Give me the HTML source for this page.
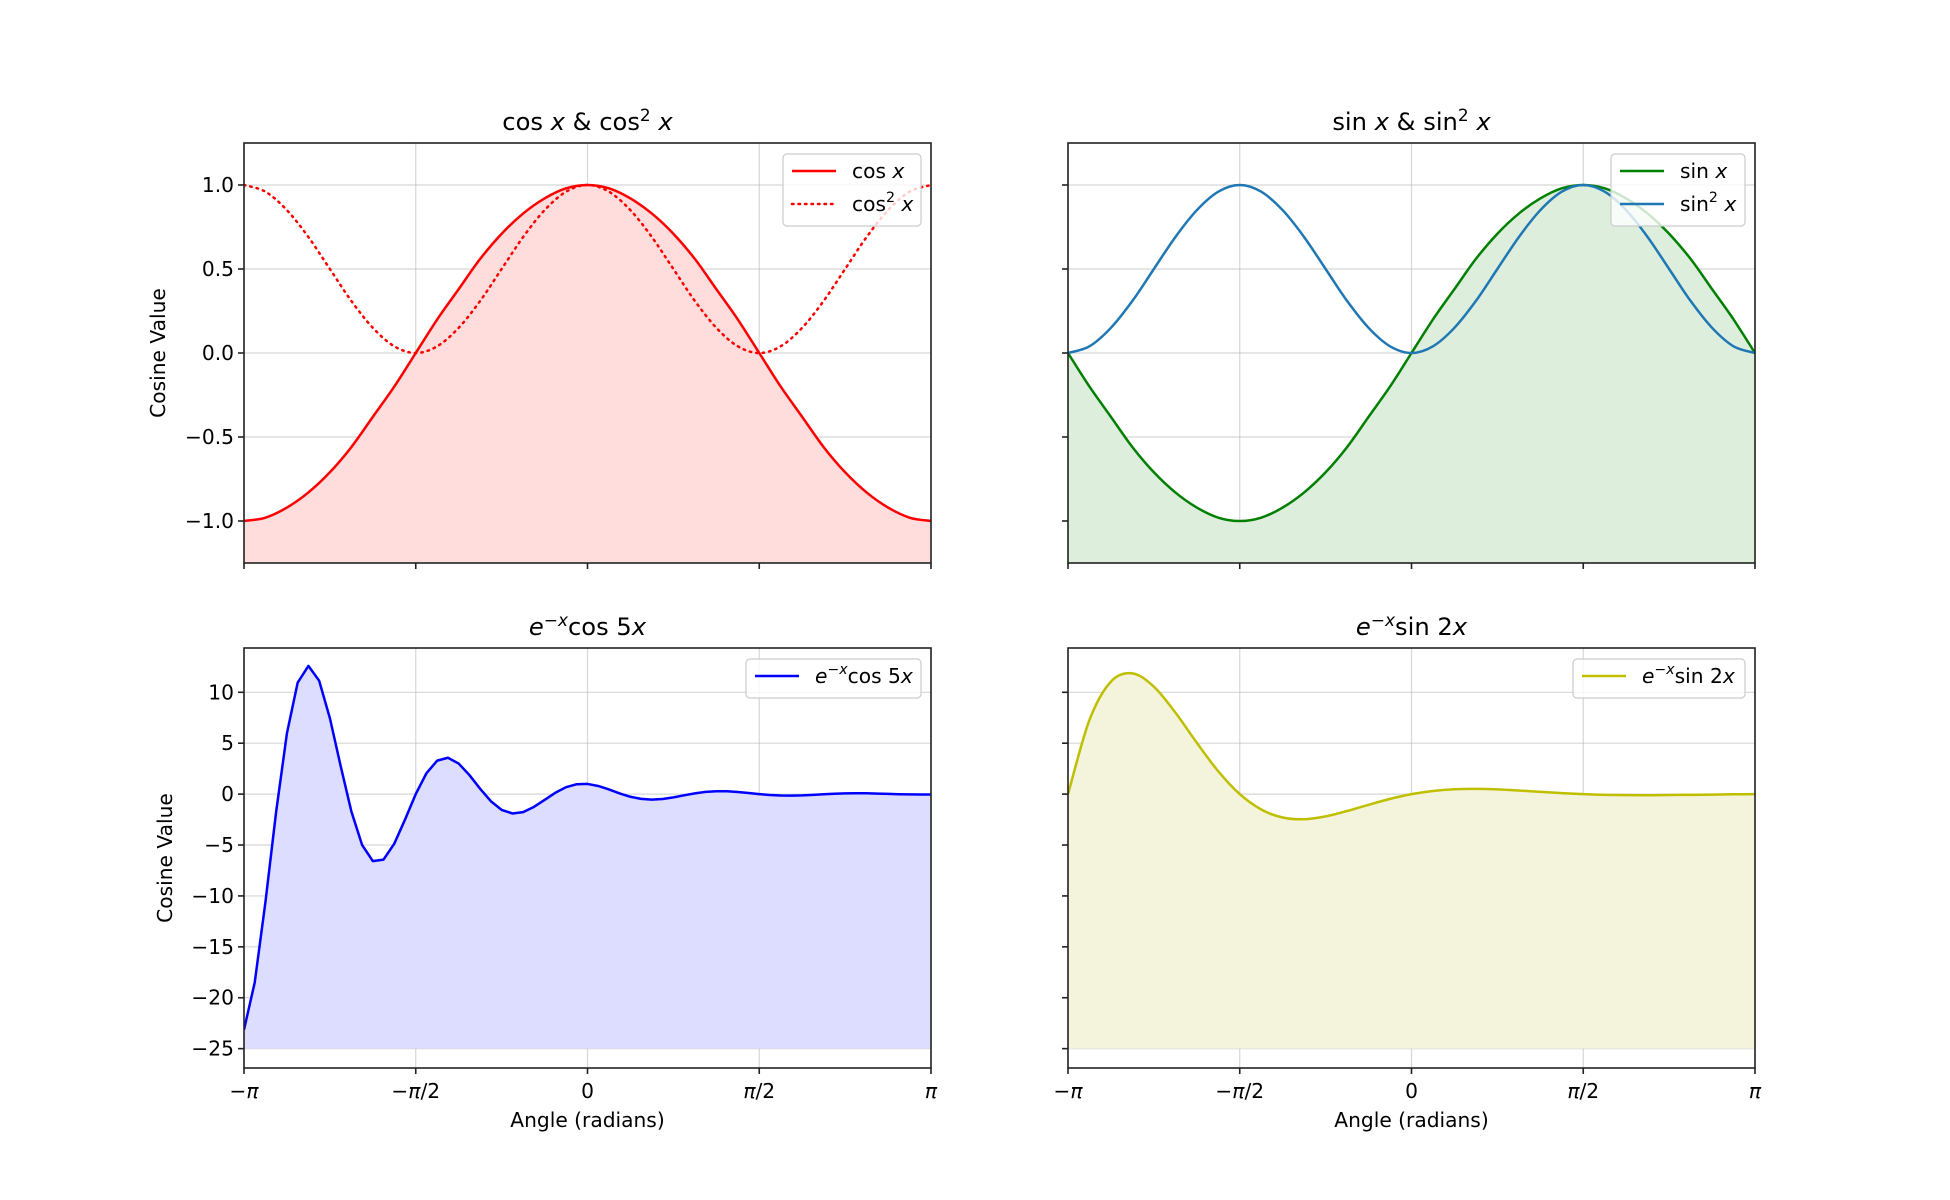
<!DOCTYPE html>
<html><head><meta charset="utf-8"><style>
body{margin:0;background:#fff;}
svg{display:block;font-family:"DejaVu Sans","Liberation Sans",sans-serif;}
</style></head><body>
<svg id="fig" width="1950" height="1200" viewBox="0 0 1950 1200" xmlns="http://www.w3.org/2000/svg"></svg>
<script>
// ---- data ----
const cosVals = [-1,-0.98,-0.92,-0.83,-0.71,-0.56,-0.38,-0.20,0,0.20,0.38,0.56,0.71,0.83,0.92,0.98,1,0.98,0.92,0.83,0.71,0.56,0.38,0.20,0,-0.20,-0.38,-0.56,-0.71,-0.83,-0.92,-0.98,-1];
const cos2Vals = [1,0.96,0.85,0.69,0.5,0.31,0.15,0.04,0,0.04,0.15,0.31,0.5,0.69,0.85,0.96,1,0.96,0.85,0.69,0.5,0.31,0.15,0.04,0,0.04,0.15,0.31,0.5,0.69,0.85,0.96,1];
const sinVals = [0,-0.20,-0.38,-0.56,-0.71,-0.83,-0.92,-0.98,-1,-0.98,-0.92,-0.83,-0.71,-0.56,-0.38,-0.20,0,0.20,0.38,0.56,0.71,0.83,0.92,0.98,1,0.98,0.92,0.83,0.71,0.56,0.38,0.20,0];
const sin2Vals = [0,0.04,0.15,0.31,0.5,0.69,0.85,0.96,1,0.96,0.85,0.69,0.5,0.31,0.15,0.04,0,0.04,0.15,0.31,0.5,0.69,0.85,0.96,1,0.96,0.85,0.69,0.5,0.31,0.15,0.04,0];
const dampCosVals = [-23.14,-18.50,-10.57,-1.69,5.98,10.95,12.59,11.14,7.46,2.78,-1.69,-4.99,-6.58,-6.43,-4.87,-2.50,0,2.06,3.29,3.57,3.00,1.87,0.52,-0.70,-1.55,-1.90,-1.77,-1.26,-0.57,0.13,0.68,0.97,1.00,0.80,0.46,0.07,-0.26,-0.47,-0.54,-0.48,-0.32,-0.12,0.07,0.22,0.28,0.28,0.21,0.11,0,-0.09,-0.14,-0.15,-0.13,-0.08,-0.02,0.03,0.07,0.08,0.08,0.05,0.02,-0.01,-0.03,-0.04,-0.04];
const dampSinVals = [0,7.28,11.05,11.86,10.55,8.01,5.04,2.24,0,-1.51,-2.30,-2.47,-2.19,-1.66,-1.05,-0.47,0,0.31,0.48,0.51,0.46,0.35,0.22,0.10,0,-0.07,-0.10,-0.11,-0.09,-0.07,-0.05,-0.02,0];
const xTickVals = [-Math.PI,-Math.PI/2,0,Math.PI/2,Math.PI];
const xTickLabels = ['−<tspan font-style="italic">π</tspan>','−<tspan font-style="italic">π</tspan>/2','0','<tspan font-style="italic">π</tspan>/2','<tspan font-style="italic">π</tspan>'];
const topYTicks = [-1.0,-0.5,0.0,0.5,1.0];
const topYLabels = ['−1.0','−0.5','0.0','0.5','1.0'];
const botYTicks = [-25,-20,-15,-10,-5,0,5,10];
const botYLabels = ['−25','−20','−15','−10','−5','0','5','10'];

const FS=20.2, TFS=24.2, LW=2.5;
const NS='http://www.w3.org/2000/svg';
const fig=document.getElementById('fig');
function mk(tag,attrs,parent){const e=document.createElementNS(NS,tag);for(const k in attrs)e.setAttribute(k,attrs[k]);(parent||fig).appendChild(e);return e;}
function xsFor(n){const a=[];for(let i=0;i<n;i++)a.push(-Math.PI+2*Math.PI*i/(n-1));return a;}
function pathFrom(pts,smooth){
  let d='M'+pts[0][0].toFixed(2)+','+pts[0][1].toFixed(2);
  for(let i=0;i<pts.length-1;i++){
    const p0=pts[Math.max(0,i-1)],p1=pts[i],p2=pts[i+1],p3=pts[Math.min(pts.length-1,i+2)];
    if(smooth){
      const c1=[p1[0]+(p2[0]-p0[0])/6,p1[1]+(p2[1]-p0[1])/6],c2=[p2[0]-(p3[0]-p1[0])/6,p2[1]-(p3[1]-p1[1])/6];
      d+=' C'+c1[0].toFixed(2)+','+c1[1].toFixed(2)+' '+c2[0].toFixed(2)+','+c2[1].toFixed(2)+' '+p2[0].toFixed(2)+','+p2[1].toFixed(2);
    } else d+=' L'+p2[0].toFixed(2)+','+p2[1].toFixed(2);
  }
  return d;
}
function panel(cfg){
  const {L,R,T,B,ymin,ymax}=cfg;
  const sx=v=>L+(v+Math.PI)/(2*Math.PI)*(R-L);
  const sy=v=>B-(v-ymin)/(ymax-ymin)*(B-T);
  const g=mk('g',{});
  
  
  xTickVals.forEach(v=>{const l=mk('line',{x1:sx(v),x2:sx(v),y1:T,y2:B,stroke:'#b0b0b0','stroke-opacity':0.5,'stroke-width':1.2},g);});
  cfg.yTicks.forEach(v=>{const l=mk('line',{x1:L,x2:R,y1:sy(v),y2:sy(v),stroke:'#b0b0b0','stroke-opacity':0.5,'stroke-width':1.2},g);});
  cfg.series.forEach(s=>{
    const xs=xsFor(s.vals.length);
    const pts=s.vals.map((v,i)=>[sx(xs[i]),sy(v)]);
    if(s.fill){
      const base=sy(s.fillBase);
      const d=pathFrom(pts,s.smooth)+' L'+pts[pts.length-1][0]+','+base+' L'+pts[0][0]+','+base+' Z';
      const f=mk('path',{d:d,fill:s.fill,stroke:'none'},g);
      
      
    }
  });
  const clipId='clip'+cfg.name;
  const cp=mk('clipPath',{id:clipId},g);mk('rect',{x:L,y:T,width:R-L,height:B-T},cp);
  cfg.series.forEach(s=>{
    const xs=xsFor(s.vals.length);
    const pts=s.vals.map((v,i)=>[sx(xs[i]),sy(v)]);
    const a={d:pathFrom(pts,s.smooth),fill:'none',stroke:s.color,'stroke-width':LW,'stroke-linejoin':'round','clip-path':'url(#'+clipId+')'};
    if(s.dash){a['stroke-dasharray']='1.5,5';a['stroke-linecap']='round';}
    const p=mk('path',a,g);
    
    
  });
  const fr=mk('rect',{x:L,y:T,width:R-L,height:B-T,fill:'none',stroke:'#222','stroke-width':1.6},g);
  
  xTickVals.forEach((v,i)=>{
    mk('line',{x1:sx(v),x2:sx(v),y1:B,y2:B+6,stroke:'#222','stroke-width':1.6},g);
    if(cfg.xLabels){const t=mk('text',{x:sx(v),y:B+30,'font-size':FS,'text-anchor':'middle',fill:'#000'},g);t.innerHTML=xTickLabels[i];}
  });
  cfg.yTicks.forEach((v,i)=>{
    mk('line',{x1:L-6,x2:L,y1:sy(v),y2:sy(v),stroke:'#222','stroke-width':1.6},g);
    if(cfg.yLabels){const t=mk('text',{x:L-10,y:sy(v)+7,'font-size':FS,'text-anchor':'end',fill:'#000'},g);t.textContent=cfg.yLabels[i];}
  });
  const tt=mk('text',{x:(L+R)/2,y:T-13,'font-size':TFS,'text-anchor':'middle',fill:'#000'},g);
  tt.innerHTML=cfg.title;
  if(cfg.xTitle){const t=mk('text',{x:(L+R)/2,y:B+59,'font-size':FS,'text-anchor':'middle',fill:'#000'},g);t.textContent=cfg.xTitle;}
  if(cfg.yTitle){const t=mk('text',{x:cfg.yTitleX,y:(T+B)/2,'font-size':FS,'text-anchor':'middle',fill:'#000',transform:'rotate(-90 '+cfg.yTitleX+' '+(T+B)/2+')'},g);t.textContent=cfg.yTitle;}
  const lg=cfg.legend;
  const lgG=mk('g',{},g);
  
  const h=lg.items.length*33+6;
  mk('rect',{x:R-10-lg.w,y:T+11,width:lg.w,height:h,rx:4,fill:'#fff','fill-opacity':0.8,stroke:'#ccc','stroke-width':1.2},lgG);
  lg.items.forEach((it,i)=>{
    const y=T+28+i*33;
    const x0=R-10-lg.w+9;
    const la={x1:x0,x2:x0+44,y1:y,y2:y,stroke:it.color,'stroke-width':LW};
    if(it.dash){la['stroke-dasharray']='1.5,5';la['stroke-linecap']='round';}
    mk('line',la,lgG);
    const t=mk('text',{x:x0+60,y:y+7,'font-size':FS,fill:'#000'},lgG);
    t.innerHTML=it.label;
    
    
  });
}
const I=s=>'<tspan font-style="italic">'+s+'</tspan>';
const SQ=(base,rest)=>base+'<tspan dy="-9" font-size="70%">2</tspan><tspan dy="9"> </tspan>'+I(rest);
const EX=rest=>I('e')+'<tspan dy="-9" font-size="70%">−</tspan><tspan font-size="70%" font-style="italic">x</tspan><tspan dy="9">'+rest+'</tspan>';
const topY=[-1.25,1.25], botY=[-26.9,14.35];
panel({name:'cos-panel',L:244,R:931,T:143,B:563,ymin:topY[0],ymax:topY[1],yTicks:topYTicks,yLabels:topYLabels,xLabels:false,
  title:'cos '+I('x')+' &amp; '+SQ('cos','x'),yTitle:'Cosine Value',yTitleX:165,
  series:[{id:'cos',vals:cosVals,color:'#ff0000',fill:'#ffdddd',fillBase:-1.25,smooth:true},{id:'cos2',vals:cos2Vals,color:'#ff0000',dash:true,smooth:true}],
  legend:{w:138,items:[{color:'#ff0000',label:'cos '+I('x')},{color:'#ff0000',dash:true,label:SQ('cos','x')}]}});
panel({name:'sin-panel',L:1068,R:1755,T:143,B:563,ymin:topY[0],ymax:topY[1],yTicks:topYTicks,yLabels:null,xLabels:false,
  title:'sin '+I('x')+' &amp; '+SQ('sin','x'),
  series:[{id:'sin',vals:sinVals,color:'#008000',fill:'#ddeedd',fillBase:-1.25,smooth:true},{id:'sin2',vals:sin2Vals,color:'#1f77b4',smooth:true}],
  legend:{w:134,items:[{color:'#008000',label:'sin '+I('x')},{color:'#1f77b4',label:SQ('sin','x')}]}});
panel({name:'damped-cos-panel',L:244,R:931,T:648,B:1068,ymin:botY[0],ymax:botY[1],yTicks:botYTicks,yLabels:botYLabels,xLabels:true,
  title:EX('cos 5'+I('x')),xTitle:'Angle (radians)',yTitle:'Cosine Value',yTitleX:172,
  series:[{id:'damped-cos',vals:dampCosVals,color:'#0000ff',fill:'#ddddff',fillBase:-25,smooth:false}],
  legend:{w:175,items:[{color:'#0000ff',label:EX('cos 5'+I('x'))}]}});
panel({name:'damped-sin-panel',L:1068,R:1755,T:648,B:1068,ymin:botY[0],ymax:botY[1],yTicks:botYTicks,yLabels:null,xLabels:true,
  title:EX('sin 2'+I('x')),xTitle:'Angle (radians)',
  series:[{id:'damped-sin',vals:dampSinVals,color:'#bfbf00',fill:'#f4f4dd',fillBase:-25,smooth:true}],
  legend:{w:172,items:[{color:'#bfbf00',label:EX('sin 2'+I('x'))}]}});
</script>
</body></html>
